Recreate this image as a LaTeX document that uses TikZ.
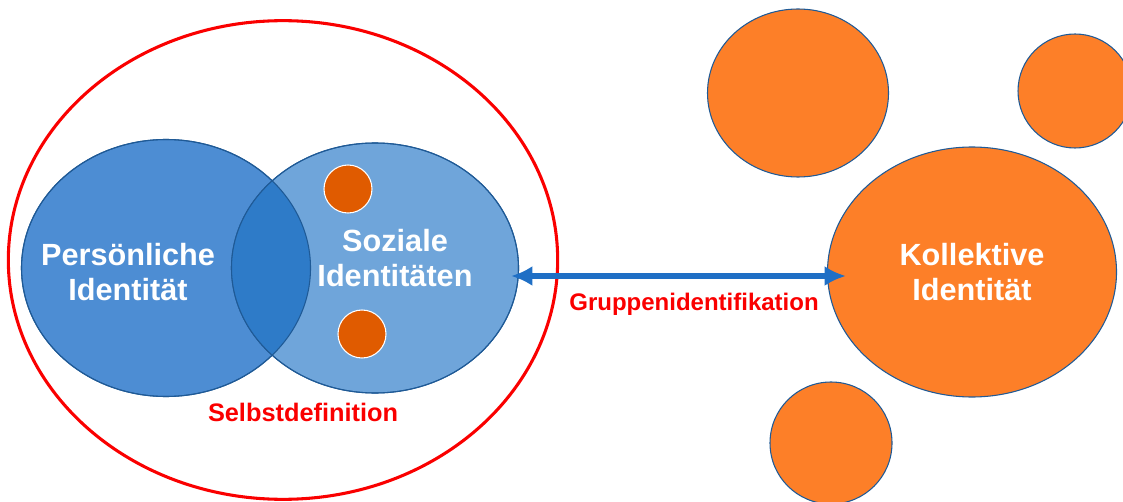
\documentclass[tikz,border=0pt]{standalone}
\usepackage{fontspec}
\setmainfont{Liberation Sans}
\usetikzlibrary{shapes.geometric,arrows.meta}

\definecolor{persblue}{RGB}{77,141,211}
\definecolor{sozblue}{RGB}{111,165,218}
\definecolor{lensblue}{RGB}{46,123,200}
\definecolor{edgeblue}{RGB}{31,90,150}
\definecolor{arrowblue}{RGB}{31,111,197}
\definecolor{dotorange}{RGB}{224,91,0}
\definecolor{kolorange}{RGB}{253,127,40}
\definecolor{selfred}{RGB}{250,0,0}

\tikzset{
  blob/.style={ellipse, draw=edgeblue, line width=0.8pt, inner sep=0pt},
  bigtext/.style={text=white, font=\bfseries\fontsize{23}{26}\selectfont, align=center},
  redtext/.style={text=selfred, font=\bfseries\fontsize{18}{21}\selectfont}
}

\begin{document}
\begin{tikzpicture}[x=0.75pt, y=-0.75pt]
    \useasboundingbox (0,0) rectangle (1123,502);

    % Left part: self definition
    \node[ellipse, draw=selfred, line width=2.3pt, minimum width=412pt, minimum height=359pt] (self) at (283,260) {};

    \node[blob, fill=persblue, minimum width=216.75pt, minimum height=192.75pt] (pers) at (166,268) {};
    \node[blob, fill=sozblue, minimum width=215.25pt, minimum height=187.5pt] (soz) at (375,268) {};
    \begin{scope}
        \clip (166,268) ellipse [x radius=144.5, y radius=128.5];
        \fill[lensblue] (375,268) ellipse [x radius=143.5, y radius=125];
    \end{scope}
    \draw[edgeblue, line width=0.8pt] (166,268) ellipse [x radius=144.5, y radius=128.5];
    \draw[edgeblue, line width=0.8pt] (375,268) ellipse [x radius=143.5, y radius=125];

    \node[circle, draw=white, line width=0.8pt, fill=dotorange, minimum size=36pt, inner sep=0pt] (dottop) at (348,189) {};
    \node[circle, draw=white, line width=0.8pt, fill=dotorange, minimum size=36pt, inner sep=0pt] (dotbot) at (362,334) {};

    \node[bigtext] (perslabel) at (128,272) {Persönliche\\Identität};
    \node[bigtext] (sozlabel) at (395,258) {Soziale\\Identitäten};
    \node[redtext, font=\bfseries\fontsize{19}{22}\selectfont] (selflabel) at (303,412) {Selbstdefinition};

    % Right part: collective
    \node[blob, fill=kolorange, minimum width=135.75pt, minimum height=126pt] (groupa) at (798,93) {};
    \node[blob, fill=kolorange, minimum width=85.5pt, minimum height=85.5pt] (groupb) at (1075,91) {};
    \node[blob, fill=kolorange, minimum width=91.5pt, minimum height=91.5pt] (groupc) at (831,443) {};
    \node[blob, fill=kolorange, minimum width=216.75pt, minimum height=187.5pt, bigtext] (kol) at (972,272) {Kollektive\\Identität};

    % Identification arrow
    \coordinate (arrleft) at (511,276);
    \coordinate (arrright) at (846,276);
    \draw[{Latex[length=16pt, width=15pt]}-{Latex[length=16pt, width=15pt]}, arrowblue, line width=4.5pt] (arrleft) -- (arrright);
    \node[redtext] (grouplabel) at (694,304) {Gruppenidentifikation};
\end{tikzpicture}
\end{document}
